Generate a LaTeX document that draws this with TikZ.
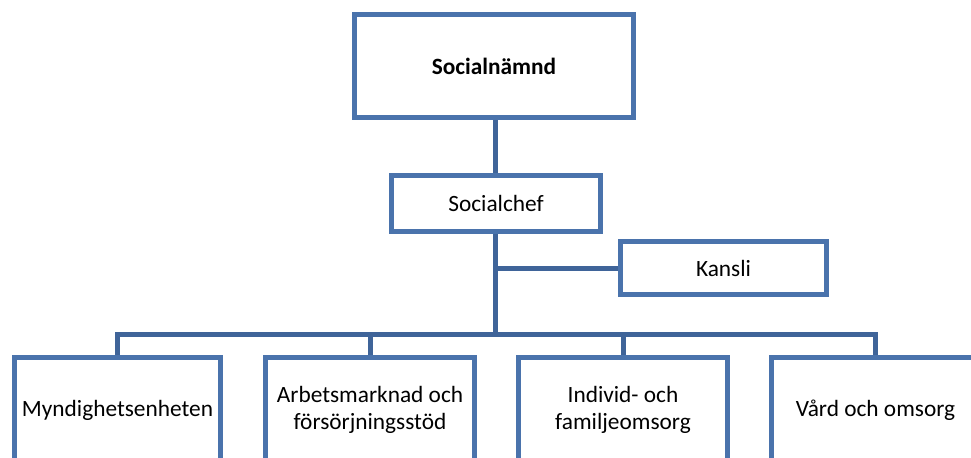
\documentclass[tikz,border=0pt]{standalone}
\usepackage{fontspec}
\setmainfont{Carlito}
\usetikzlibrary{positioning}

\colorlet{box border color}{rgb,255:red,74;green,115;blue,172}
\colorlet{link color}{rgb,255:red,63;green,100;blue,153}
\tikzset{
    x={0.75pt},
    y={-0.75pt},
    unit box/.style={
        draw=box border color,
        fill=white,
        line width={3.75pt},
        rectangle,
        align=center,
        inner sep=0pt,
        font={\fontsize{17.5}{20}\selectfont},
        minimum width={#1*0.75pt},
    },
    unit box/.default={209},
    board box/.style={
        unit box={279},
        minimum height={103*0.75pt},
        font={\fontsize{17.5}{20}\selectfont\bfseries},
    },
    head box/.style={
        unit box={209},
        minimum height={56*0.75pt},
    },
    staff box/.style={
        unit box={206},
        minimum height={53*0.75pt},
    },
    dept box/.style={
        unit box={#1},
        minimum height={106*0.75pt},
    },
    dept box/.default={209},
    link/.style={
        draw=link color,
        line width={3.75pt},
    },
}

\begin{document}
\begin{tikzpicture}
\useasboundingbox (0,0) rectangle (971,457);
\clip (0,0) rectangle (971,457);
% boxes
\node[board box] (nmnd) at (494,66) {Socialnämnd};
\node[head box] (chef) at (496,203.5) {Socialchef};
\node[staff box] (kansli) at (723.5,268) {Kansli};
\node[dept box={206.5}] (myndighet) at (117.5,410) {Myndighetsenheten};
\node[dept box] (arbete) at (370,410) {Arbetsmarknad och\\försörjningsstöd};
\node[dept box] (individ) at (623,410) {Individ- och\\familjeomsorg};
\node[dept box] (vard) at (875.5,410) {Vård och omsorg};
% connectors
\coordinate (bar) at (495,334.5);
\coordinate (fork) at (495,268);
\path[link] (nmnd.south -| bar) -- (chef.north -| bar);
\path[link] (chef.south -| bar) -- (bar);
\path[link] (fork) -- (kansli.west);
\path[link] (bar) -| (myndighet.north);
\path[link] (bar) -| (arbete.north);
\path[link] (bar) -| (individ.north);
\path[link] (bar) -| (vard.north);
\end{tikzpicture}
\end{document}
